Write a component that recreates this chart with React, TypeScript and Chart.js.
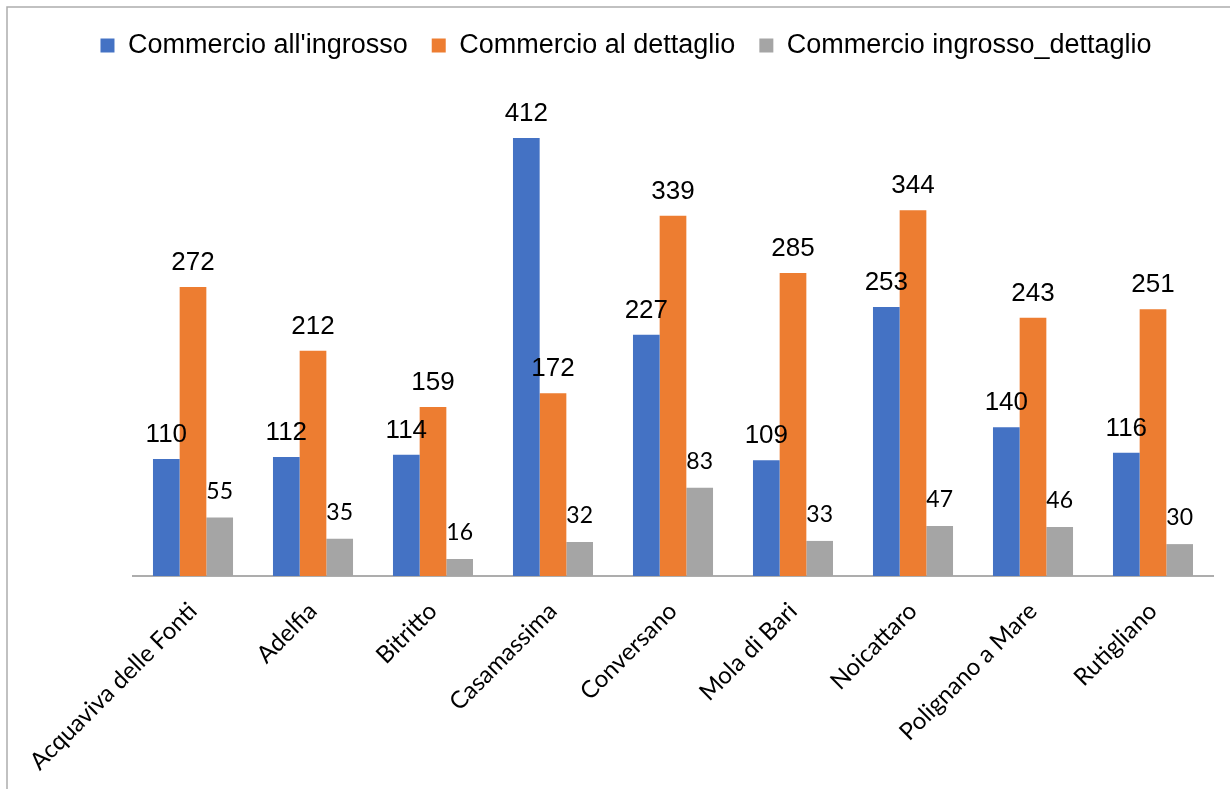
import React, { useEffect, useRef } from "react";
import { Chart, registerables } from "chart.js";

Chart.register(...registerables);

const categories = [
  "Acquaviva delle Fonti",
  "Adelfia",
  "Bitritto",
  "Casamassima",
  "Conversano",
  "Mola di Bari",
  "Noicattaro",
  "Polignano a Mare",
  "Rutigliano",
];
const seriesNames = [
  "Commercio all'ingrosso",
  "Commercio al dettaglio",
  "Commercio ingrosso_dettaglio",
];
const ingrosso = [110, 112, 114, 412, 227, 109, 253, 140, 116];
const dettaglio = [272, 212, 159, 172, 339, 285, 344, 243, 251];
const ingrossoDettaglio = [55, 35, 16, 32, 83, 33, 47, 46, 30];
const seriesColors = ["#4472C4", "#ED7D31", "#A5A5A5"];

const valueLabels = {
  id: "valueLabels",
  afterDatasetsDraw(chart: any) {
    const ctx = chart.ctx;
    chart.data.datasets.forEach((ds: any, di: number) => {
      const meta = chart.getDatasetMeta(di);
      const small = di === 2;
      ctx.save();
      ctx.font = small ? "23px Lato" : '26px "Liberation Sans"';
      ctx.fillStyle = "#000";
      ctx.textAlign = "center";
      ctx.textBaseline = "alphabetic";
      meta.data.forEach((el: any, i: number) => {
        ctx.fillText(String(ds.data[i]), el.x, el.y - (small ? 19 : 17));
      });
      ctx.restore();
    });
  },
};

const frame = {
  id: "frame",
  beforeDraw(chart: any) {
    const ctx = chart.ctx;
    ctx.save();
    ctx.fillStyle = "#ffffff";
    ctx.fillRect(0, 0, chart.width, chart.height);
    ctx.strokeStyle = "#ADADAD";
    ctx.lineWidth = 1.5;
    ctx.beginPath();
    ctx.moveTo(7, chart.height);
    ctx.lineTo(7, 7);
    ctx.lineTo(chart.width, 7);
    ctx.stroke();
    ctx.restore();
  },
};

export default function App() {
  const ref = useRef<HTMLCanvasElement>(null);
  useEffect(() => {
    document.body.style.margin = "0";
    const canvas = ref.current!;
    const chart = new Chart(canvas, {
      type: "bar",
      data: {
        labels: categories,
        datasets: [ingrosso, dettaglio, ingrossoDettaglio].map((d, i) => ({
          label: seriesNames[i],
          data: d,
          backgroundColor: seriesColors[i],
          borderWidth: 0,
          categoryPercentage: 0.667,
          barPercentage: 1,
        })),
      },
      options: {
        responsive: false,
        animation: false,
        layout: { padding: { left: 39, right: 17, top: 8, bottom: 0 } },
        plugins: {
          tooltip: { enabled: false },
          legend: {
            position: "top",
            labels: {
              boxWidth: 14,
              boxHeight: 14,
              padding: 24,
              color: "#000",
              font: { family: "'Liberation Sans', Arial", size: 27 },
            },
          },
        },
        scales: {
          x: {
            grid: { display: false },
            border: { display: true, color: "#ADADAD", width: 2 },
            ticks: {
              color: "#000",
              font: { family: "Lato", size: 24 },
              maxRotation: 45,
              minRotation: 45,
              padding: 13,
              autoSkip: false,
            },
            afterFit: (s: any) => {
              s.height = 213;
            },
          },
          y: {
            min: 0,
            max: 477,
            grid: { display: false },
            border: { display: false },
            ticks: { display: false },
            afterFit: (s: any) => {
              s.width = 94;
            },
          },
        },
      },
      plugins: [frame, valueLabels],
    });
    return () => chart.destroy();
  }, []);
  return (
    <div style={{ width: 1230, height: 789 }}>
      <canvas ref={ref} width={1230} height={789} />
    </div>
  );
}
